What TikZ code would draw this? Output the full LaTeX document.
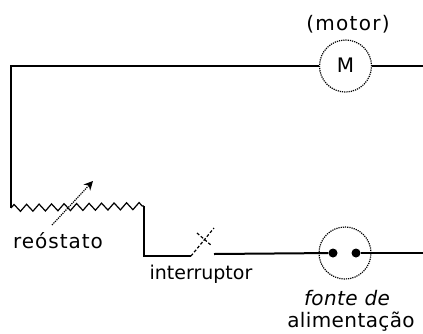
\documentclass[tikz,border=0pt]{standalone}
\usepackage{fontspec}
\setmainfont{DejaVu Sans}
\usetikzlibrary{decorations.pathmorphing,arrows.meta}
\tikzset{
  wire/.style={line width=2pt,black},
  thin wire/.style={line width=1.2pt,black},
  dev/.style={circle,draw=black,line width=1.2pt,densely dotted,minimum size=52pt,inner sep=0pt},
  pin/.style={circle,fill=black,minimum size=9pt,inner sep=0pt},
  lab/.style={font=\fontsize{20}{20}\selectfont,text=black,inner sep=0pt},
}
\begin{document}
\begin{tikzpicture}[x=1pt,y=-1pt]
\useasboundingbox (0,0) rectangle (423,333);
\fill[white] (0,0) rectangle (423,333);
% devices
\node[dev] (motor) at (345.5,66) {};
\node[dev] (fonte) at (345,253) {};
\node[lab] (mletter) at (345.5,65) {M};
\node[pin] (p1) at (333,253) {};
\node[pin] (p2) at (356,253) {};
% free ends
\coordinate (tl) at (11,66);
\coordinate (rs) at (11,208);
\coordinate (re) at (144,206);
\coordinate (rb) at (144,256);
\coordinate (sw1) at (191,256);
\coordinate (sw2) at (214,228);
\coordinate (cr1) at (197,233);
\coordinate (cr2) at (212,246);
\coordinate (sw3) at (214,254);
\coordinate (mr) at (423,66);
\coordinate (fr) at (423,253);
\coordinate (a1) at (52,225);
\coordinate (a2) at (93,181);
% wires
\draw[wire] (motor.west) -- (tl) -- (rs);
\draw[wire] (motor.east) -- (mr);
\draw[wire] (re) -- (rb) -- (sw1);
\draw[wire] (sw3) -- (p1);
\draw[wire] (p2) -- (fr);
% rheostat
\draw[thin wire,decorate,decoration={zigzag,segment length=12.5pt,amplitude=3.5pt}] (rs) -- (re);
\draw[thin wire,densely dotted,-{Stealth[length=9pt,width=9pt]}] (a1) -- (a2);
% switch
\draw[thin wire,densely dashed] (sw1) -- (sw2);
\draw[thin wire,densely dashed] (cr1) -- (cr2);
% labels
\node[lab] (l1) at (58,241) {\addfontfeature{LetterSpace=5}reóstato};
\node[lab,font=\fontsize{19}{20}\selectfont] (l2) at (201,274) {interruptor};
\node[lab] (l3) at (348,24) {\addfontfeature{LetterSpace=6.5}(motor)};
\node[lab,font=\fontsize{20}{20}\selectfont\itshape] (l4) at (347,298) {\addfontfeature{LetterSpace=2}fonte de};
\node[lab] (l5) at (351,322) {\addfontfeature{LetterSpace=2}alimentação};
\end{tikzpicture}
\end{document}
